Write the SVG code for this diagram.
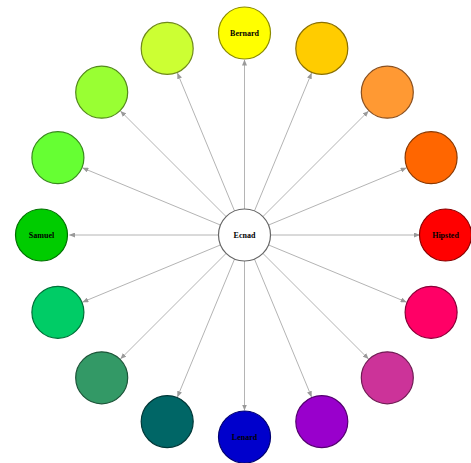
<svg xmlns="http://www.w3.org/2000/svg" width="471" height="463" viewBox="0 0 471 463">
<style>
.n{stroke-width:1.2}
.e line{stroke:#b4b4b4;stroke-width:1;marker-end:url(#ah)}
text{font-family:"Liberation Serif","Times New Roman",serif;font-size:8px;font-weight:bold;text-anchor:middle;fill:#000}
</style>
<defs>
<marker id="ah" markerUnits="userSpaceOnUse" markerWidth="6" markerHeight="5" refX="5.5" refY="2.5" orient="auto">
<path d="M0,0 L6,2.5 L0,5 z" fill="#9a9a9a"/>
</marker>
</defs>
<rect width="471" height="463" fill="#fff"/>
<g class="e" id="connectors">
<line x1="244.5" y1="209" x2="244.5" y2="60"/>
<line x1="254.45" y1="210.98" x2="311.47" y2="73.32"/>
<line x1="262.88" y1="216.62" x2="368.24" y2="111.26"/>
<line x1="268.52" y1="225.05" x2="406.18" y2="168.03"/>
<line x1="270.5" y1="235" x2="419.5" y2="235"/>
<line x1="268.52" y1="244.95" x2="406.18" y2="301.97"/>
<line x1="262.88" y1="253.38" x2="368.24" y2="358.74"/>
<line x1="254.45" y1="259.02" x2="311.47" y2="396.68"/>
<line x1="244.5" y1="261" x2="244.5" y2="410"/>
<line x1="234.55" y1="259.02" x2="177.53" y2="396.68"/>
<line x1="226.12" y1="253.38" x2="120.76" y2="358.74"/>
<line x1="220.48" y1="244.95" x2="82.82" y2="301.97"/>
<line x1="218.5" y1="235" x2="69.5" y2="235"/>
<line x1="220.48" y1="225.05" x2="82.82" y2="168.03"/>
<line x1="226.12" y1="216.62" x2="120.76" y2="111.26"/>
<line x1="234.55" y1="210.98" x2="177.53" y2="73.32"/>
</g>
<g id="center"><circle class="n" cx="244.5" cy="235" r="26" fill="#fff" stroke="#666"/><text x="244.5" y="238">Ecnad</text></g>
<g id="n0"><circle class="n" cx="244.5" cy="33" r="26" fill="#ffff00" stroke="#8a8a00"/><text x="244.5" y="36">Bernard</text></g>
<g id="n1"><circle class="n" cx="321.8" cy="48.4" r="26" fill="#ffcc00" stroke="#8a7000"/></g>
<g id="n2"><circle class="n" cx="387.3" cy="92.2" r="26" fill="#ff9933" stroke="#8a5020"/></g>
<g id="n3"><circle class="n" cx="431.1" cy="157.7" r="26" fill="#ff6600" stroke="#8a3800"/></g>
<g id="n4"><circle class="n" cx="445.5" cy="235" r="26" fill="#ff0000" stroke="#8a0000"/><text x="445.5" y="238">Hipsted</text></g>
<g id="n5"><circle class="n" cx="431.1" cy="312.3" r="26" fill="#ff0066" stroke="#8a0038"/></g>
<g id="n6"><circle class="n" cx="387.3" cy="377.8" r="26" fill="#cc3399" stroke="#701c54"/></g>
<g id="n7"><circle class="n" cx="321.8" cy="421.6" r="26" fill="#9900cc" stroke="#540070"/></g>
<g id="n8"><circle class="n" cx="244.5" cy="437" r="26" fill="#0000cc" stroke="#000070"/><text x="244.5" y="440">Lenard</text></g>
<g id="n9"><circle class="n" cx="167.2" cy="421.6" r="26" fill="#006666" stroke="#003838"/></g>
<g id="n10"><circle class="n" cx="101.7" cy="377.8" r="26" fill="#339966" stroke="#1c5438"/></g>
<g id="n11"><circle class="n" cx="57.9" cy="312.3" r="26" fill="#00cc66" stroke="#007038"/></g>
<g id="n12"><circle class="n" cx="41.5" cy="235" r="26" fill="#00cc00" stroke="#007000"/><text x="41.5" y="238">Samuel</text></g>
<g id="n13"><circle class="n" cx="57.9" cy="157.7" r="26" fill="#66ff33" stroke="#388a1c"/></g>
<g id="n14"><circle class="n" cx="101.7" cy="92.2" r="26" fill="#99ff33" stroke="#548a1c"/></g>
<g id="n15"><circle class="n" cx="167.2" cy="48.4" r="26" fill="#ccff33" stroke="#708a1c"/></g>
</svg>
